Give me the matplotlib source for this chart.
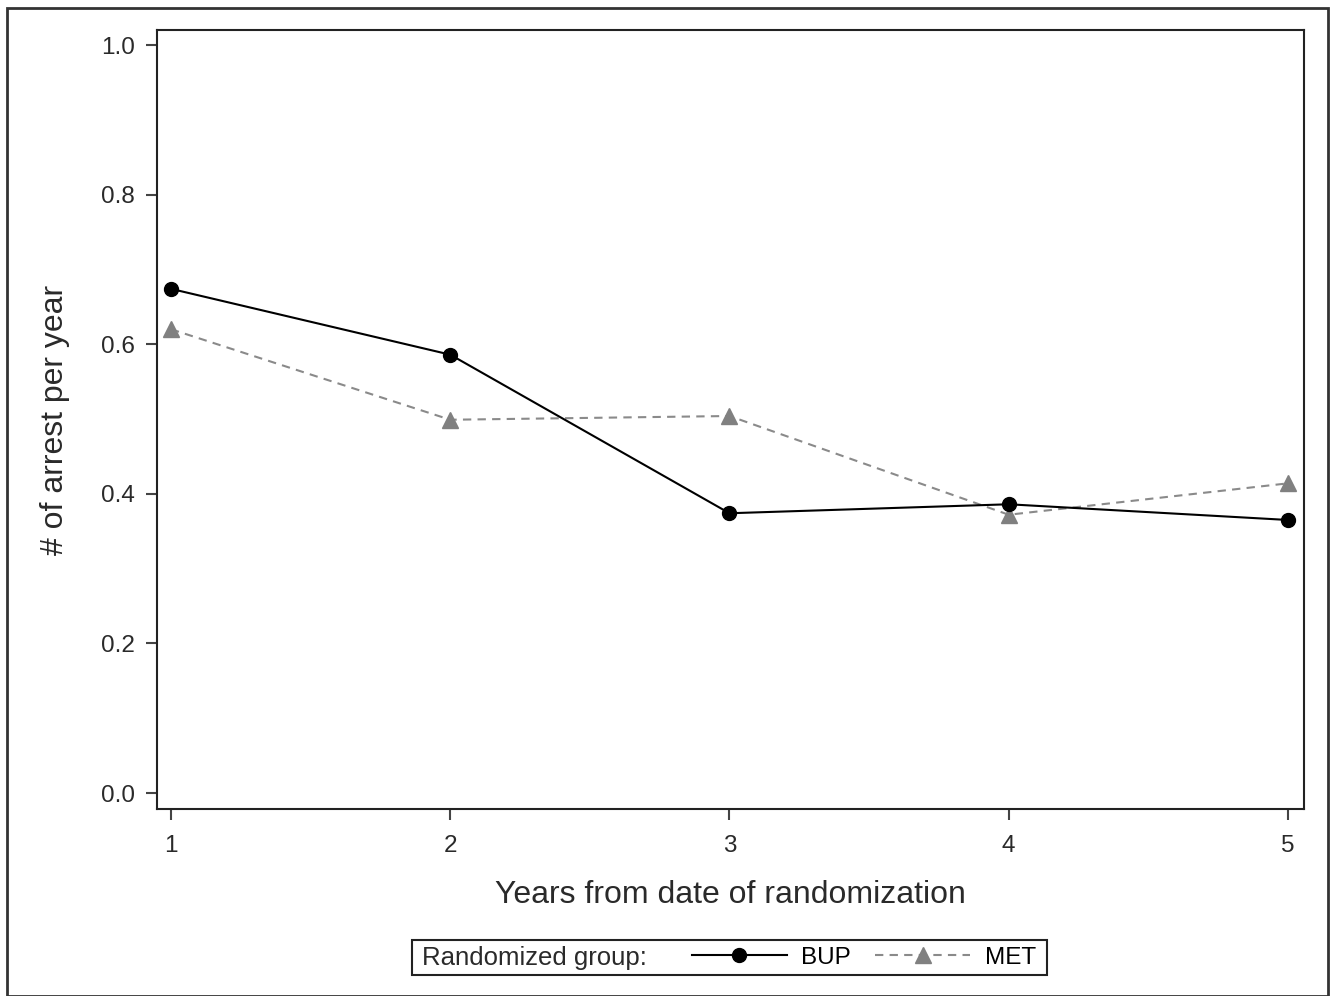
import matplotlib
matplotlib.use("Agg")
import matplotlib.pyplot as plt
from matplotlib.patches import Rectangle

plt.rcParams['font.family'] = ['Liberation Sans', 'DejaVu Sans']

years = [1, 2, 3, 4, 5]
bup = [0.674, 0.586, 0.374, 0.386, 0.365]
met = [0.620, 0.499, 0.504, 0.372, 0.414]
yticks = [0.0, 0.2, 0.4, 0.6, 0.8, 1.0]
ytick_labels = ["0.0", "0.2", "0.4", "0.6", "0.8", "1.0"]

W, H = 1337, 996
fig = plt.figure(figsize=(W / 100, H / 100), dpi=100)
ax = fig.add_axes([157 / W, 1 - 809 / H, (1304 - 157) / W, (809 - 30) / H])

l1, = ax.plot(years, bup, color='black', lw=1.5, marker='o', markersize=10,
              label='BUP', zorder=3)
l2, = ax.plot(years, met, color='#8a8a8a', lw=1.5, ls=(0, (4, 3)), marker='^',
              markersize=11, markerfacecolor='#808080', markeredgecolor='#808080',
              label='MET', zorder=2)

ax.set_xlim(1 - 14 / 279.25, 5 + 16 / 279.25)
ax.set_ylim((793 - 809) / 748, (793 - 30) / 748)
ax.set_xticks(years)
ax.set_xticklabels([str(y) for y in years])
ax.set_yticks(yticks)
ax.set_yticklabels(ytick_labels)
ax.tick_params(labelsize=17.5, length=8, width=1.5, color='#444444', labelcolor='#2a2a2a', pad=8)
ax.tick_params(axis='x', pad=11)
for s in ax.spines.values():
    s.set_linewidth(1.5)
    s.set_color('#222222')

ax.set_xlabel('Years from date of randomization', fontsize=23, color='#2a2a2a', labelpad=16)
ax.set_ylabel('# of arrest per year', fontsize=23, color='#2a2a2a', labelpad=22)

# outer frame
fig.patches.append(Rectangle((7 / W, 0.0 / H), (1328 - 7) / W, (996 - 8) / H,
                             transform=fig.transFigure, fill=False,
                             edgecolor='#333333', lw=2))
# legend frame
fig.patches.append(Rectangle((412 / W, 1 - 975 / H), (1047 - 412) / W, 35 / H,
                             transform=fig.transFigure, fill=False,
                             edgecolor='#222222', lw=1.5))
fig.text(422 / W, 1 - 957.5 / H, 'Randomized group:', fontsize=18.5, va='center',
         ha='left', color='#2a2a2a')
fig.legend(handles=[l1, l2], loc='center left', bbox_to_anchor=(692 / W, 1 - 957.5 / H),
           ncol=2, frameon=False, fontsize=17.5, handlelength=3.9, columnspacing=1.0,
           handletextpad=0.6, borderpad=0, borderaxespad=0)

fig.savefig('out.png', dpi=100)
